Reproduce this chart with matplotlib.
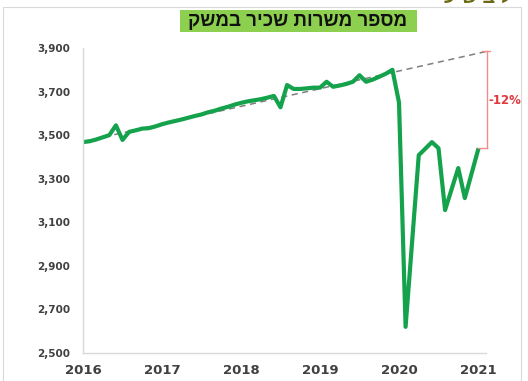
import matplotlib
matplotlib.use("Agg")
import matplotlib.pyplot as plt
from matplotlib.patches import Rectangle

# data (thousands of employee jobs), month index from Jan 2016
months = [0, 1, 2, 3, 4, 5, 6, 7, 8, 9, 10, 11,
          12, 13, 14, 15, 16, 17, 18, 19, 20, 21, 22, 23,
          24, 25, 26, 27, 28, 29, 30, 31, 32, 33, 34, 35,
          36, 37, 38, 39, 40, 41, 42, 43, 44, 45, 46, 47,
          48, 49, 51, 53, 54, 55, 57, 58, 60]
jobs = [3468, 3472, 3480, 3490, 3500, 3545, 3478, 3515, 3522, 3530, 3532, 3540,
        3550, 3558, 3565, 3572, 3580, 3588, 3595, 3605, 3612, 3622, 3630, 3640,
        3648, 3655, 3660, 3665, 3672, 3680, 3628, 3730, 3712, 3712, 3715, 3718,
        3718, 3745, 3722, 3728, 3735, 3745, 3775, 3745, 3755, 3768, 3782, 3800,
        3650, 2620, 3408, 3468, 3440, 3156, 3349, 3211, 3431]

# pre-crisis trend line
trend_months = [0, 61.4]
trend_vals = [3470, 3885]

gap_top = 3885
gap_bottom = 3440
gap_label = "-12%"

year_ticks = [2016, 2017, 2018, 2019, 2020, 2021]
y_ticks = [2500, 2700, 2900, 3100, 3300, 3500, 3700, 3900]
title = "מספר משרות שכיר במשק"

W, H = 528, 381
fig = plt.figure(figsize=(W / 100, H / 100), dpi=100)
fig.patch.set_facecolor("white")

# outer frame
fig.add_artist(Rectangle((3 / W, -0.01), (521 - 3) / W, 1 - 7 / H + 0.01,
                         transform=fig.transFigure, fill=False,
                         edgecolor="#d9d9d9", lw=0.8))

ax = fig.add_axes([83 / W, 1 - 353 / H, (486 - 83) / W, (353 - 48) / H])

to_year = lambda m: 2016 + m / 12.0
xs = [to_year(m) for m in months]
tx = [to_year(m) for m in trend_months]

ax.plot(tx, trend_vals, color="#7f7f7f", lw=1.1, ls=(0, (4, 3)), zorder=1)
ax.plot(xs, jobs, color="#14a34c", lw=3, solid_joinstyle="round", zorder=2)

# -12% bracket
gx = to_year(trend_months[-1])
red = "#f08c8c"
ax.plot([gx, gx], [gap_bottom, gap_top], color=red, lw=1, clip_on=False)
ax.plot([gx - 0.07, gx + 0.03], [gap_top, gap_top], color=red, lw=1, clip_on=False)
ax.plot([xs[-1], gx], [gap_bottom, gap_bottom], color=red, lw=1, clip_on=False)
ax.text(gx + 0.02, 3661, gap_label, color="#e0393e", fontsize=8.5, fontweight="bold",
        ha="left", va="center", clip_on=False)

ax.set_xlim(2016, 2016 + (486 - 83) / 79)
ax.set_ylim(2500, 3900)
ax.set_xticks(year_ticks)
ax.set_xticklabels([str(y) for y in year_ticks])
ax.set_yticks(y_ticks)
ax.set_yticklabels([f"{v:,}" for v in y_ticks])
ax.tick_params(axis="both", length=0, colors="#404040")
ax.tick_params(axis="y", pad=9, labelsize=7.5)
ax.tick_params(axis="x", pad=8, labelsize=9.5)
for lab in ax.get_xticklabels() + ax.get_yticklabels():
    lab.set_fontweight("bold")

for s in ["top", "right"]:
    ax.spines[s].set_visible(False)
for s in ["left", "bottom"]:
    ax.spines[s].set_color("#d9d9d9")
    ax.spines[s].set_linewidth(1)

# title in green box (Hebrew reversed for RTL display)
fig.add_artist(Rectangle((180 / W, 1 - 32 / H), (417 - 180) / W, 22 / H,
                         transform=fig.transFigure, facecolor="#8dd04f",
                         edgecolor="none"))
fig.text(298 / W, 1 - 21 / H, title[::-1], ha="center", va="center",
         fontsize=13.5, fontweight="bold", color="#111111",
         family=["Liberation Sans", "DejaVu Sans"])

# cut-off heading above the frame (only its lower edge is in view)
fig.text(478 / W, 1 - 3 / H, "ע ש ב ל", ha="center", va="baseline",
         fontsize=14, fontweight="bold", color="#6b6b14",
         family=["Liberation Sans", "DejaVu Sans"])

fig.savefig("out.png", dpi=100)
